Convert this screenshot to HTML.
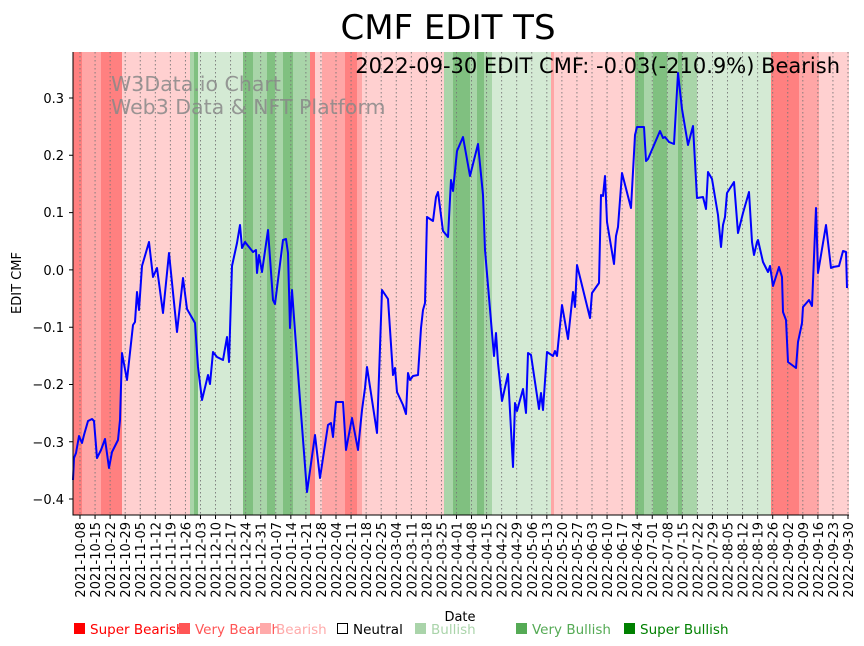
<!DOCTYPE html>
<html><head><meta charset="utf-8"><style>
body{margin:0;background:#fff;}
svg{display:block;font-family:"DejaVu Sans","Liberation Sans",sans-serif;}
</style></head><body>
<svg width="864" height="646" xmlns="http://www.w3.org/2000/svg">
<rect width="864" height="646" fill="#fff"/>
<g>
<rect x="73" y="52" width="9" height="463" fill="#ff8080"/>
<rect x="82" y="52" width="19" height="463" fill="#ffa6a6"/>
<rect x="101" y="52" width="21" height="463" fill="#ff8080"/>
<rect x="122" y="52" width="68" height="463" fill="#ffd0d0"/>
<rect x="190" y="52" width="4" height="463" fill="#a9d5a9"/>
<rect x="194" y="52" width="4" height="463" fill="#80c080"/>
<rect x="198" y="52" width="45" height="463" fill="#d4ead4"/>
<rect x="243" y="52" width="10" height="463" fill="#80c080"/>
<rect x="253" y="52" width="14" height="463" fill="#a9d5a9"/>
<rect x="267" y="52" width="8" height="463" fill="#80c080"/>
<rect x="275" y="52" width="8" height="463" fill="#a9d5a9"/>
<rect x="283" y="52" width="10" height="463" fill="#80c080"/>
<rect x="293" y="52" width="17" height="463" fill="#a9d5a9"/>
<rect x="310" y="52" width="5" height="463" fill="#ff8080"/>
<rect x="315" y="52" width="7" height="463" fill="#ffd0d0"/>
<rect x="322" y="52" width="23" height="463" fill="#ffa6a6"/>
<rect x="345" y="52" width="12" height="463" fill="#ff8080"/>
<rect x="357" y="52" width="5" height="463" fill="#ffa6a6"/>
<rect x="362" y="52" width="82" height="463" fill="#ffd0d0"/>
<rect x="444" y="52" width="9" height="463" fill="#a9d5a9"/>
<rect x="453" y="52" width="17" height="463" fill="#80c080"/>
<rect x="470" y="52" width="7" height="463" fill="#a9d5a9"/>
<rect x="477" y="52" width="7" height="463" fill="#80c080"/>
<rect x="484" y="52" width="8" height="463" fill="#a9d5a9"/>
<rect x="492" y="52" width="59" height="463" fill="#d4ead4"/>
<rect x="551" y="52" width="3" height="463" fill="#ffa6a6"/>
<rect x="554" y="52" width="81" height="463" fill="#ffd0d0"/>
<rect x="635" y="52" width="9" height="463" fill="#80c080"/>
<rect x="644" y="52" width="9" height="463" fill="#a9d5a9"/>
<rect x="653" y="52" width="14" height="463" fill="#80c080"/>
<rect x="667" y="52" width="11" height="463" fill="#a9d5a9"/>
<rect x="678" y="52" width="4" height="463" fill="#80c080"/>
<rect x="682" y="52" width="15" height="463" fill="#a9d5a9"/>
<rect x="697" y="52" width="74" height="463" fill="#d4ead4"/>
<rect x="771" y="52" width="28" height="463" fill="#ff8080"/>
<rect x="799" y="52" width="20" height="463" fill="#ffa6a6"/>
<rect x="819" y="52" width="30" height="463" fill="#ffd0d0"/>
</g>
<g stroke="#777" stroke-width="0.9" stroke-dasharray="1.5,2.5" fill="none">
<path d="M80 52V515M95.06 52V515M110.12 52V515M125.18 52V515M140.24 52V515M155.3 52V515M170.35 52V515M185.41 52V515M200.47 52V515M215.53 52V515M230.59 52V515M245.65 52V515M260.71 52V515M275.77 52V515M290.83 52V515M305.89 52V515M320.94 52V515M336 52V515M351.06 52V515M366.12 52V515M381.18 52V515M396.24 52V515M411.3 52V515M426.35 52V515M441.41 52V515M456.47 52V515M471.53 52V515M486.59 52V515M501.65 52V515M516.71 52V515M531.77 52V515M546.83 52V515M561.89 52V515M576.94 52V515M592 52V515M607.06 52V515M622.12 52V515M637.18 52V515M652.24 52V515M667.3 52V515M682.35 52V515M697.41 52V515M712.47 52V515M727.53 52V515M742.59 52V515M757.65 52V515M772.71 52V515M787.77 52V515M802.83 52V515M817.89 52V515M832.94 52V515M848 52V515"/>
</g>
<text x="111" y="91" font-size="20.5" fill="#888" fill-opacity="0.85">W3Data.io Chart</text>
<text x="111" y="114" font-size="20.5" fill="#888" fill-opacity="0.85">Web3 Data &amp; NFT Platform</text>
<text x="840" y="73" font-size="21" text-anchor="end" fill="#000">2022-09-30 EDIT CMF: -0.03(-210.9%) Bearish</text>
<polyline fill="none" stroke="#0000ff" stroke-width="2" stroke-linejoin="round" points="73,480 74,458 76,453 79,436 82,443 84,435 88,421 92,419 94,421 97,458 101,450 105,439 109,468 112,452 118,440 120,420 122,353 127,380 133,325 135,322 137,292 139,310 142,266 149,242 153,277 157,268 163,313 169,253 177,332 183,278 187,309 195,323 198,367 202,400 208,375 210,384 213,352 217,357 223,360 227,337 229,362 232,266 237,243 240,225 242,248 245,242 253,252 256,250 257,273 259,255 262,272 268,230 273,300 275,304 283,240 286,239 288,253 290,328 292,290 300,400 307,492 315,435 320,478 328,425 331,423 333,437 336,402 343,402 346,450 352,418 358,450 362,410 365,388 367,367 377,433 382,290 388,299 393,375 395,368 397,392 403,405 406,414 408,373 410,380 413,376 418,375 421,328 423,310 425,303 427,217 433,221 436,197 438,192 443,231 448,237 451,180 453,191 457,151 463,137 470,176 478,144 483,195 485,250 492,333 494,356 496,333 498,363 502,401 508,374 513,467 515,403 517,411 523,389 526,413 528,353 531,355 539,409 541,393 543,410 547,352 553,356 555,351 557,356 562,305 568,339 573,292 575,307 577,265 590,318 592,293 599,283 601,195 603,196 605,176 607,222 614,264 616,236 618,227 622,173 631,208 635,135 637,127 644,127 646,161 648,159 660,131 663,138 665,137 669,142 674,144 678,73 682,109 688,145 693,126 697,198 703,197 706,209 708,172 712,179 718,215 721,247 723,225 725,217 727,193 734,182 738,233 743,213 749,192 752,242 754,255 757,242 758,240 763,262 768,272 770,266 773,286 779,267 782,277 783,312 786,320 788,362 796,368 798,342 802,323 803,307 809,300 812,306 816,208 818,273 826,225 831,268 833,267 839,266 843,251 846,252 847,288"/>
<g stroke="#000" stroke-width="1" fill="none">
<path d="M73 52V515H849"/>
<path d="M69 98H73M69 155.3H73M69 212.6H73M69 269.9H73M69 327.2H73M69 384.5H73M69 441.8H73M69 499H73"/>
<path d="M80 515v4M95.06 515v4M110.12 515v4M125.18 515v4M140.24 515v4M155.3 515v4M170.35 515v4M185.41 515v4M200.47 515v4M215.53 515v4M230.59 515v4M245.65 515v4M260.71 515v4M275.77 515v4M290.83 515v4M305.89 515v4M320.94 515v4M336 515v4M351.06 515v4M366.12 515v4M381.18 515v4M396.24 515v4M411.3 515v4M426.35 515v4M441.41 515v4M456.47 515v4M471.53 515v4M486.59 515v4M501.65 515v4M516.71 515v4M531.77 515v4M546.83 515v4M561.89 515v4M576.94 515v4M592 515v4M607.06 515v4M622.12 515v4M637.18 515v4M652.24 515v4M667.3 515v4M682.35 515v4M697.41 515v4M712.47 515v4M727.53 515v4M742.59 515v4M757.65 515v4M772.71 515v4M787.77 515v4M802.83 515v4M817.89 515v4M832.94 515v4M848 515v4"/>
</g>
<g font-size="13" text-anchor="end" fill="#000">
<text x="64" y="103">0.3</text><text x="64" y="160">0.2</text><text x="64" y="217">0.1</text><text x="64" y="275">0.0</text>
<text x="64" y="332">−0.1</text><text x="64" y="389">−0.2</text><text x="64" y="447">−0.3</text><text x="64" y="504">−0.4</text>
</g>
<g font-size="13" text-anchor="end" fill="#000">
<text transform="translate(85,522) rotate(-90)">2021-10-08</text>
<text transform="translate(100.06,522) rotate(-90)">2021-10-15</text>
<text transform="translate(115.12,522) rotate(-90)">2021-10-22</text>
<text transform="translate(130.18,522) rotate(-90)">2021-10-29</text>
<text transform="translate(145.24,522) rotate(-90)">2021-11-05</text>
<text transform="translate(160.3,522) rotate(-90)">2021-11-12</text>
<text transform="translate(175.35,522) rotate(-90)">2021-11-19</text>
<text transform="translate(190.41,522) rotate(-90)">2021-11-26</text>
<text transform="translate(205.47,522) rotate(-90)">2021-12-03</text>
<text transform="translate(220.53,522) rotate(-90)">2021-12-10</text>
<text transform="translate(235.59,522) rotate(-90)">2021-12-17</text>
<text transform="translate(250.65,522) rotate(-90)">2021-12-24</text>
<text transform="translate(265.71,522) rotate(-90)">2021-12-31</text>
<text transform="translate(280.77,522) rotate(-90)">2022-01-07</text>
<text transform="translate(295.83,522) rotate(-90)">2022-01-14</text>
<text transform="translate(310.89,522) rotate(-90)">2022-01-21</text>
<text transform="translate(325.94,522) rotate(-90)">2022-01-28</text>
<text transform="translate(341,522) rotate(-90)">2022-02-04</text>
<text transform="translate(356.06,522) rotate(-90)">2022-02-11</text>
<text transform="translate(371.12,522) rotate(-90)">2022-02-18</text>
<text transform="translate(386.18,522) rotate(-90)">2022-02-25</text>
<text transform="translate(401.24,522) rotate(-90)">2022-03-04</text>
<text transform="translate(416.3,522) rotate(-90)">2022-03-11</text>
<text transform="translate(431.35,522) rotate(-90)">2022-03-18</text>
<text transform="translate(446.41,522) rotate(-90)">2022-03-25</text>
<text transform="translate(461.47,522) rotate(-90)">2022-04-01</text>
<text transform="translate(476.53,522) rotate(-90)">2022-04-08</text>
<text transform="translate(491.59,522) rotate(-90)">2022-04-15</text>
<text transform="translate(506.65,522) rotate(-90)">2022-04-22</text>
<text transform="translate(521.71,522) rotate(-90)">2022-04-29</text>
<text transform="translate(536.77,522) rotate(-90)">2022-05-06</text>
<text transform="translate(551.83,522) rotate(-90)">2022-05-13</text>
<text transform="translate(566.89,522) rotate(-90)">2022-05-20</text>
<text transform="translate(581.94,522) rotate(-90)">2022-05-27</text>
<text transform="translate(597,522) rotate(-90)">2022-06-03</text>
<text transform="translate(612.06,522) rotate(-90)">2022-06-10</text>
<text transform="translate(627.12,522) rotate(-90)">2022-06-17</text>
<text transform="translate(642.18,522) rotate(-90)">2022-06-24</text>
<text transform="translate(657.24,522) rotate(-90)">2022-07-01</text>
<text transform="translate(672.3,522) rotate(-90)">2022-07-08</text>
<text transform="translate(687.35,522) rotate(-90)">2022-07-15</text>
<text transform="translate(702.41,522) rotate(-90)">2022-07-22</text>
<text transform="translate(717.47,522) rotate(-90)">2022-07-29</text>
<text transform="translate(732.53,522) rotate(-90)">2022-08-05</text>
<text transform="translate(747.59,522) rotate(-90)">2022-08-12</text>
<text transform="translate(762.65,522) rotate(-90)">2022-08-19</text>
<text transform="translate(777.71,522) rotate(-90)">2022-08-26</text>
<text transform="translate(792.77,522) rotate(-90)">2022-09-02</text>
<text transform="translate(807.83,522) rotate(-90)">2022-09-09</text>
<text transform="translate(822.89,522) rotate(-90)">2022-09-16</text>
<text transform="translate(837.94,522) rotate(-90)">2022-09-23</text>
<text transform="translate(853,522) rotate(-90)">2022-09-30</text>
</g>
<text x="448" y="39" font-size="34" text-anchor="middle" fill="#000">CMF EDIT TS</text>
<text x="460" y="621" font-size="13" text-anchor="middle" fill="#000">Date</text>
<text transform="translate(21,283) rotate(-90)" font-size="13" text-anchor="middle" fill="#000">EDIT CMF</text>
<g font-size="13.5">
<rect x="74" y="623" width="11" height="11" fill="#ff0000"/><text x="90" y="634" fill="#ff0000">Super Bearish</text>
<rect x="179" y="623" width="11" height="11" fill="#ff5555"/><text x="195" y="634" fill="#ff5555">Very Bearish</text>
<rect x="260" y="623" width="11" height="11" fill="#ffaaaa"/><text x="276" y="634" fill="#ffaaaa">Bearish</text>
<rect x="337.5" y="623.5" width="10" height="10" fill="#fff" stroke="#000"/><text x="353" y="634" fill="#000">Neutral</text>
<rect x="415" y="623" width="11" height="11" fill="#aad4aa"/><text x="431" y="634" fill="#aad4aa">Bullish</text>
<rect x="516" y="623" width="11" height="11" fill="#55aa55"/><text x="532" y="634" fill="#55aa55">Very Bullish</text>
<rect x="624" y="623" width="11" height="11" fill="#008000"/><text x="640" y="634" fill="#008000">Super Bullish</text>
</g>
</svg>
</body></html>
